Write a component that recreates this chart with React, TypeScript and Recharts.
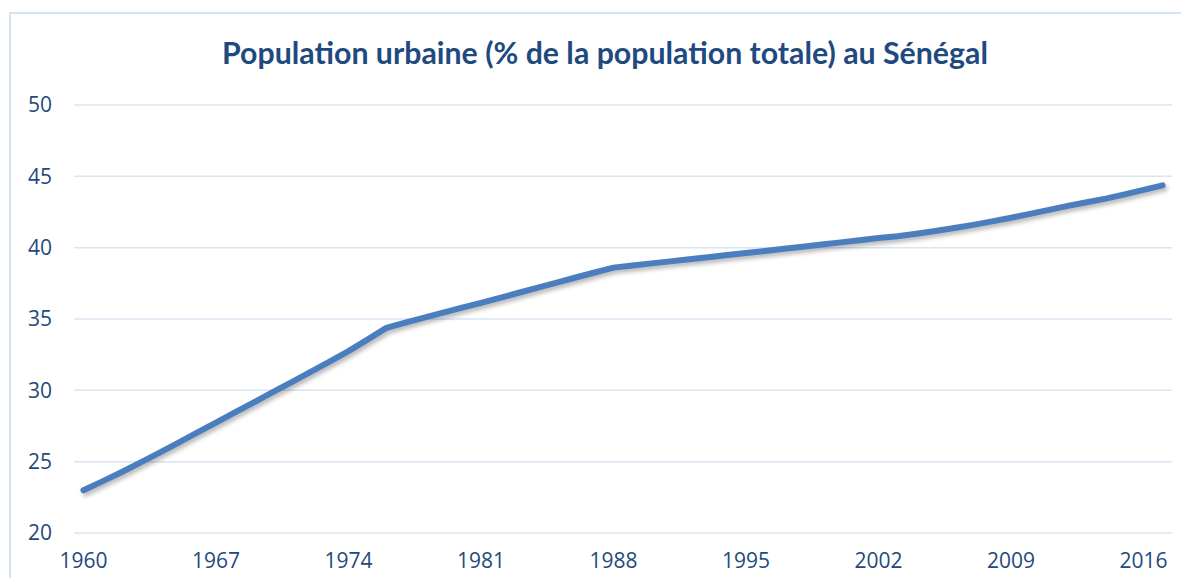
import React from 'react';
import { LineChart, Line, XAxis, YAxis, CartesianGrid } from 'recharts';

// Population urbaine (% de la population totale), Sénégal, 1960-2017
const YEARS: number[] = [
  1960, 1961, 1962, 1963, 1964, 1965, 1966, 1967, 1968, 1969,
  1970, 1971, 1972, 1973, 1974, 1975, 1976, 1977, 1978, 1979,
  1980, 1981, 1982, 1983, 1984, 1985, 1986, 1987, 1988, 1989,
  1990, 1991, 1992, 1993, 1994, 1995, 1996, 1997, 1998, 1999,
  2000, 2001, 2002, 2003, 2004, 2005, 2006, 2007, 2008, 2009,
  2010, 2011, 2012, 2013, 2014, 2015, 2016, 2017,
];

const URBAN_PCT: number[] = [
  23.00, 23.62, 24.26, 24.93, 25.62, 26.32, 27.03, 27.74, 28.45, 29.16,
  29.87, 30.58, 31.30, 32.02, 32.75, 33.55, 34.38, 34.75, 35.10, 35.45,
  35.80, 36.13, 36.48, 36.84, 37.20, 37.55, 37.91, 38.26, 38.60, 38.75,
  38.90, 39.04, 39.19, 39.33, 39.48, 39.62, 39.77, 39.92, 40.07, 40.22,
  40.37, 40.52, 40.68, 40.80, 40.98, 41.17, 41.38, 41.60, 41.84, 42.10,
  42.37, 42.65, 42.93, 43.18, 43.44, 43.74, 44.05, 44.37,
];

const X_TICKS = [1960, 1967, 1974, 1981, 1988, 1995, 2002, 2009, 2016];
const Y_TICKS = [20, 25, 30, 35, 40, 45, 50];

const TITLE = 'Population urbaine (% de la population totale) au Sénégal';

const chartData = YEARS.map((year, i) => ({ year, value: URBAN_PCT[i] }));

const TEXT_BLUE = '#1f4a7c';

export default function App() {
  return (
    <div style={{ margin: -8 }}>
      <style>{`
        .urban-line .recharts-line-curve {
          filter: drop-shadow(2px 3px 2px rgba(0,0,0,0.28));
        }
      `}</style>
      <div
        style={{
          position: 'relative',
          width: 1189,
          height: 586,
          overflow: 'hidden',
          background: '#fff',
          fontFamily: 'Lato, "Open Sans", sans-serif',
        }}
      >
        {/* chart frame, cropped at right and bottom */}
        <div
          style={{
            position: 'absolute',
            left: 9,
            top: 12,
            width: 1300,
            height: 700,
            border: '2px solid #d6e3f2',
            boxSizing: 'border-box',
          }}
        />
        <div
          style={{
            position: 'absolute',
            left: 0,
            top: 32,
            width: 1210,
            textAlign: 'center',
            fontSize: 30.3,
            fontWeight: 700,
            color: '#1f4a80',
            lineHeight: '40px',
          }}
        >
          {TITLE}
        </div>
        <div style={{ position: 'absolute', left: 0, top: 0 }}>
          <LineChart
            width={1189}
            height={586}
            data={chartData}
            margin={{ top: 105, right: 17, left: 0, bottom: 0 }}
          >
            <CartesianGrid vertical={false} stroke="#d9e5f3" strokeWidth={1.5} />
            <XAxis
              dataKey="year"
              type="number"
              domain={[1959.5, 2017.5]}
              ticks={X_TICKS}
              interval={0}
              axisLine={false}
              tickLine={false}
              tickSize={0}
              tickMargin={20}
              height={53}
              tick={{ fill: TEXT_BLUE, fontSize: 21, fontFamily: 'Open Sans' }}
            />
            <YAxis
              domain={[20, 50]}
              ticks={Y_TICKS}
              interval={0}
              axisLine={false}
              tickLine={false}
              tickSize={0}
              tickMargin={22}
              width={74}
              tick={{ fill: TEXT_BLUE, fontSize: 21, fontFamily: 'Open Sans' }}
            />
            <Line
              className="urban-line"
              type="linear"
              dataKey="value"
              stroke="#4a7ebf"
              strokeWidth={6}
              strokeLinecap="round"
              strokeLinejoin="round"
              dot={false}
              activeDot={false}
              isAnimationActive={false}
            />
          </LineChart>
        </div>
      </div>
    </div>
  );
}
